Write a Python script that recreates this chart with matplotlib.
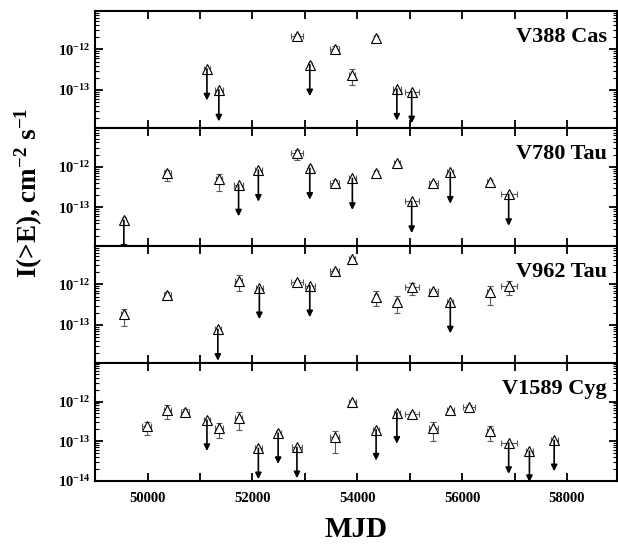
import matplotlib
matplotlib.use("Agg")
import matplotlib.pyplot as plt
from matplotlib.ticker import MultipleLocator, FuncFormatter, LogLocator, NullFormatter, FixedLocator
import numpy as np

plt.rcParams['font.family'] = ['Liberation Serif', 'DejaVu Serif']
plt.rcParams['font.weight'] = 'bold'
plt.rcParams['mathtext.fontset'] = 'custom'
plt.rcParams['mathtext.rm'] = 'Liberation Serif:bold'
plt.rcParams['mathtext.bf'] = 'Liberation Serif:bold'
plt.rcParams['mathtext.it'] = 'Liberation Serif:bold'

# ---------------- data ----------------
names = ["V388 Cas", "V780 Tau", "V962 Tau", "V1589 Cyg"]

cas_mjd = [51132, 51359, 52849, 53094, 53567, 53906, 54359, 54755, 55038]
cas_flux = [3.3e-13, 1.0e-13, 2.2e-12, 4.2e-13, 1.0e-12, 2.3e-13, 1.9e-12, 1.05e-13, 0.9e-13]
cas_ul = [1, 1, 0, 1, 0, 0, 0, 1, 1]
cas_elo = [0, 0, 0.2e-12, 0, 0.15e-12, 1.0e-13, 0.25e-12, 0, 0]
cas_ehi = [0, 0, 0.25e-12, 0, 0.2e-12, 0.9e-13, 0.3e-12, 0, 0]
cas_xerr = [50, 80, 120, 40, 80, 60, 40, 70, 130]

v780_mjd = [49547, 50377, 51359, 51736, 52113, 52849, 53094, 53567, 53906, 54359,
            54755, 55038, 55453, 55774, 56529, 56888]
v780_flux = [4.8e-14, 6.9e-13, 4.9e-13, 3.6e-13, 8.3e-13, 2.2e-12, 9.3e-13, 4.0e-13,
             5.2e-13, 6.9e-13, 1.23e-12, 1.4e-13, 3.9e-13, 7.4e-13, 4.2e-13, 2.1e-13]
v780_ul = [1, 0, 0, 1, 1, 0, 1, 0, 1, 0, 0, 1, 0, 1, 0, 1]
v780_elo = [0, 2.5e-13, 2.3e-13, 0, 0, 0.7e-12, 0, 0.8e-13, 0, 1.2e-13,
            0.2e-12, 0, 0.6e-13, 0, 0.6e-13, 0]
v780_ehi = [0, 1.7e-13, 1.7e-13, 0, 0, 0.4e-12, 0, 0.8e-13, 0, 1.0e-13,
            0.2e-12, 0, 0.6e-13, 0, 0.6e-13, 0]
v780_xerr = [40, 70, 60, 80, 60, 120, 40, 80, 70, 40, 60, 130, 80, 60, 50, 150]

v962_mjd = [49547, 50377, 51340, 51736, 52132, 52849, 53094, 53567, 53906, 54359,
            54755, 55038, 55453, 55774, 56529, 56888]
v962_flux = [1.8e-13, 5.6e-13, 7.8e-14, 1.2e-12, 8.3e-13, 1.15e-12, 9.3e-13, 2.1e-12,
             4.2e-12, 5.0e-13, 3.7e-13, 8.5e-13, 6.8e-13, 3.7e-13, 6.4e-13, 9.3e-13]
v962_ul = [0, 0, 1, 0, 1, 0, 1, 0, 0, 0, 0, 0, 0, 1, 0, 0]
v962_elo = [0.85e-13, 1.0e-13, 0, 0.5e-12, 0, 0.15e-12, 0, 0.25e-12, 0.4e-12, 2.1e-13,
            1.7e-13, 3.2e-13, 0.8e-13, 0, 3.3e-13, 3.8e-13]
v962_ehi = [0.7e-13, 1.0e-13, 0, 0.5e-12, 0, 0.15e-12, 0, 0.25e-12, 0.4e-12, 1.9e-13,
            1.4e-13, 2.2e-13, 0.8e-13, 0, 2.9e-13, 3.0e-13]
v962_xerr = [50, 70, 60, 60, 60, 120, 90, 80, 60, 40, 40, 130, 80, 60, 50, 150]

cyg_mjd = [49981, 50377, 50717, 51132, 51359, 51736, 52113, 52490, 52849, 53567,
           53906, 54359, 54755, 55038, 55453, 55774, 56133, 56529, 56888, 57284, 57756]
cyg_flux = [2.4e-13, 6.0e-13, 5.6e-13, 3.4e-13, 2.1e-13, 3.9e-13, 6.6e-14, 1.6e-13,
            7.0e-14, 1.25e-13, 9.6e-13, 1.95e-13, 5.2e-13, 4.9e-13, 2.2e-13, 6.0e-13,
            7.2e-13, 1.85e-13, 9.0e-14, 5.6e-14, 1.05e-13]
cyg_ul = [0, 0, 0, 1, 0, 0, 1, 1, 1, 0, 0, 1, 1, 0, 0, 0, 0, 0, 1, 1, 1]
cyg_elo = [1.0e-13, 2.3e-13, 0.7e-13, 0, 0.9e-13, 2.0e-13, 0, 0, 0, 0.74e-13,
           1.0e-13, 0, 0, 0.5e-13, 1.2e-13, 0.6e-13, 0.8e-13, 0.85e-13, 0, 0, 0]
cyg_ehi = [0.7e-13, 2.1e-13, 0.7e-13, 0, 0.7e-13, 1.6e-13, 0, 0, 0, 0.6e-13,
           1.0e-13, 0, 0, 0.5e-13, 0.9e-13, 0.6e-13, 0.8e-13, 0.6e-13, 0, 0, 0]
cyg_xerr = [80, 70, 80, 50, 70, 60, 60, 50, 90, 80, 70, 50, 60, 130, 80, 70, 120, 60, 150, 60, 70]

panels = [
    (cas_mjd, cas_flux, cas_ul, cas_elo, cas_ehi, cas_xerr),
    (v780_mjd, v780_flux, v780_ul, v780_elo, v780_ehi, v780_xerr),
    (v962_mjd, v962_flux, v962_ul, v962_elo, v962_ehi, v962_xerr),
    (cyg_mjd, cyg_flux, cyg_ul, cyg_elo, cyg_ehi, cyg_xerr),
]

ARROW_FACTOR = 6.0

fig, axes = plt.subplots(4, 1, sharex=True, figsize=(6.18, 5.47), dpi=100)
fig.subplots_adjust(left=0.154, right=0.998, bottom=0.121, top=0.98, hspace=0)

for i, (ax, name, data) in enumerate(zip(axes, names, panels)):
    mjd, flux, ul, elo, ehi, xerr = [np.array(d, dtype=float) for d in data]
    ax.set_yscale('log')
    ax.errorbar(mjd, flux, yerr=[elo, ehi], xerr=xerr, fmt='none',
                ecolor='0.35', elinewidth=0.8, capsize=2.5, capthick=0.8, zorder=2)
    ax.plot(mjd, flux, linestyle='none', marker='^', ms=7.5, mfc='white',
            mec='black', mew=0.8, zorder=3)
    for x, f, u in zip(mjd, flux, ul):
        if u:
            ax.annotate('', xy=(x, f / ARROW_FACTOR), xytext=(x, f),
                        arrowprops=dict(arrowstyle='-|>', color='black', lw=1.2,
                                        mutation_scale=9, shrinkA=0, shrinkB=0),
                        zorder=4, annotation_clip=False)
    ax.set_xlim(49000, 58950)
    if i == 3:
        ax.set_ylim(1e-14, 9.2e-12)
        ax.yaxis.set_major_locator(FixedLocator([1e-14, 1e-13, 1e-12]))
    else:
        ax.set_ylim(1.12e-14, 8.9e-12)
        ax.yaxis.set_major_locator(FixedLocator([1e-13, 1e-12]))
    ax.yaxis.set_minor_locator(LogLocator(base=10, subs=np.arange(2, 10), numticks=20))
    ax.yaxis.set_minor_formatter(NullFormatter())
    ax.xaxis.set_major_locator(MultipleLocator(1000))
    ax.xaxis.set_major_formatter(FuncFormatter(lambda v, p: f"{int(v)}" if int(round(v)) % 2000 == 0 else ""))
    ax.tick_params(axis='both', which='major', direction='in', top=True, right=True,
                   length=6, width=1.3, labelsize=10.5)
    ax.tick_params(axis='x', which='major', pad=8)
    ax.tick_params(axis='both', which='minor', direction='in', top=True, right=True,
                   length=3, width=0.8)
    for sp in ax.spines.values():
        sp.set_linewidth(1.5)
    ax.text(0.981, 0.78, name, transform=ax.transAxes, ha='right', va='center',
            fontsize=16, fontweight='bold')

axes[-1].set_xlabel('MJD', fontsize=21, fontweight='bold', labelpad=8)
fig.text(0.047, 0.648, r'I(>E), cm$^{\mathbf{-2}}$ s$^{\mathbf{-1}}$', rotation=90,
         ha='center', va='center', fontsize=19.5, fontweight='bold')

fig.savefig('out.png', dpi=100)
